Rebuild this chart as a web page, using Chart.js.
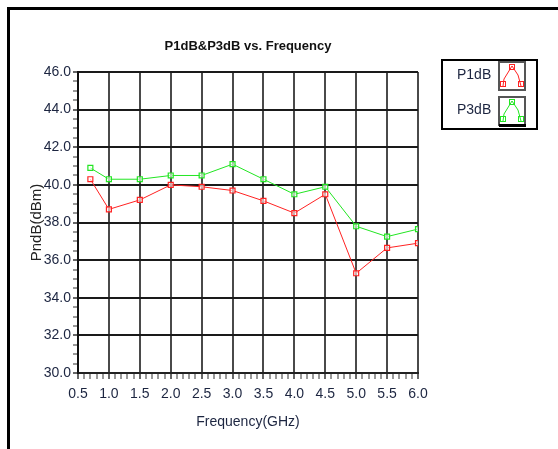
<!DOCTYPE html>
<html lang="en">
<head>
<meta charset="UTF-8">
<script src="https://cdn.jsdelivr.net/npm/chart.js"></script>
<title>P1dB&amp;P3dB vs. Frequency</title>
<style>
  body { margin: 0; background: #fff; }
  canvas { display: block; }
</style>
</head>
<body>
<canvas id="grafico" width="558" height="449"></canvas>
<script>
// dados
const freqs = [0.7, 1.0, 1.5, 2.0, 2.5, 3.0, 3.5, 4.0, 4.5, 5.0, 5.5, 6.0]
const p1dB = [40.3, 38.7, 39.2, 40.0, 39.9, 39.7, 39.15, 38.5, 39.5, 35.3, 36.65, 36.9]
const p3dB = [40.9, 40.3, 40.3, 40.5, 40.5, 41.1, 40.3, 39.5, 39.9, 37.8, 37.25, 37.65]
const seriesNames = ['P1dB', 'P3dB']
const seriesColors = ['#ff2222', '#22e622']

const fonte = '"Liberation Sans", Arial, sans-serif'
const corTexto = '#1c2540'

function isMultiple(v, m) {
  const r = v / m
  return Math.abs(r - Math.round(r)) < 1e-6
}

// moldura e legenda desenhadas a mao
const moldura = {
  id: 'moldura',
  beforeDraw(chart) {
    const c = chart.ctx
    c.save()
    c.fillStyle = '#fff'
    c.fillRect(0, 0, chart.width, chart.height)
    c.strokeStyle = '#000'
    c.lineWidth = 3
    c.beginPath()
    c.moveTo(8.5, 449)
    c.lineTo(8.5, 8.5)
    c.lineTo(558, 8.5)
    c.stroke()
    c.restore()
  },
  afterDraw(chart) {
    const c = chart.ctx
    c.save()
    c.strokeStyle = '#000'
    c.lineWidth = 2
    c.strokeRect(442, 60, 95, 69)
    c.font = '14px ' + fonte
    c.fillStyle = corTexto
    c.textBaseline = 'middle'
    c.textAlign = 'left'
    const tops = [62, 97]
    for (let i = 0; i < 2; i++) {
      c.fillText(seriesNames[i], 457, tops[i] + 13)
      const x0 = 499, y0 = tops[i]
      c.strokeStyle = '#555'
      c.lineWidth = 2
      c.strokeRect(x0, y0, 26, 28)
      c.strokeStyle = seriesColors[i]
      c.lineWidth = 1
      c.beginPath()
      c.moveTo(x0 + 4, y0 + 24)
      c.lineTo(x0 + 5, y0 + 17)
      c.lineTo(x0 + 13, y0 + 4)
      c.lineTo(x0 + 19, y0 + 13)
      c.lineTo(x0 + 22, y0 + 24)
      c.stroke()
      const pts = [[x0 + 4, y0 + 22], [x0 + 13, y0 + 5], [x0 + 22, y0 + 22]]
      pts.forEach(p => c.strokeRect(p[0] - 2.5, p[1] - 2.5, 5, 5))
    }
    c.fillStyle = '#000'
    c.fillRect(499, 124, 27, 3)
    c.restore()
  }
}

const ctx = document.getElementById('grafico')

var grafico = new Chart(ctx, {
  type: 'line',
  data: {
    datasets: [{
      label: seriesNames[0],
      data: freqs.map((f, i) => ({ x: f, y: p1dB[i] })),
      borderColor: seriesColors[0],
      borderWidth: 1,
      pointStyle: 'rect',
      pointRadius: 3.5,
      pointBorderWidth: 1.2,
      pointBackgroundColor: 'rgba(255,255,255,0.6)',
      pointBorderColor: seriesColors[0],
      tension: 0
    }, {
      label: seriesNames[1],
      data: freqs.map((f, i) => ({ x: f, y: p3dB[i] })),
      borderColor: seriesColors[1],
      borderWidth: 1,
      pointStyle: 'rect',
      pointRadius: 3.5,
      pointBorderWidth: 1.2,
      pointBackgroundColor: 'rgba(255,255,255,0.6)',
      pointBorderColor: seriesColors[1],
      tension: 0
    }]
  },
  plugins: [moldura],
  options: {
    responsive: false,
    animation: false,
    layout: { padding: { left: 0, right: 140, top: 0, bottom: 0 } },
    plugins: {
      legend: { display: false },
      tooltip: { enabled: false },
      title: {
        display: true,
        fullSize: false,
        text: 'P1dB&P3dB vs. Frequency',
        color: '#111',
        font: { family: fonte, size: 13, weight: 'bold', lineHeight: 1.2 },
        padding: { top: 39, bottom: 17.4 }
      }
    },
    scales: {
      x: {
        type: 'linear',
        min: 0.5,
        max: 6.0,
        afterFit: s => { s.height = 76 },
        ticks: {
          stepSize: 0.1,
          maxTicksLimit: 100,
          autoSkip: false,
          maxRotation: 0,
          color: corTexto,
          font: { family: fonte, size: 14 },
          padding: 7,
          callback: v => isMultiple(v, 0.5) ? v.toFixed(1) : ''
        },
        grid: {
          color: c => (c.tick && isMultiple(c.tick.value, 0.5)) ? '#4a4a4a' : 'rgba(0,0,0,0)',
          lineWidth: 2,
          tickLength: 6,
          tickColor: '#333',
          tickWidth: c => (c.tick && isMultiple(c.tick.value, 0.5)) ? 1.5 : 1
        },
        border: { color: '#222', width: 2 },
        title: {
          display: true,
          text: 'Frequency(GHz)',
          color: corTexto,
          font: { family: fonte, size: 14 },
          padding: { top: 0, bottom: 18 }
        }
      },
      y: {
        min: 30,
        max: 46,
        afterFit: s => { s.width = 78 },
        ticks: {
          stepSize: 0.5,
          maxTicksLimit: 100,
          autoSkip: false,
          color: corTexto,
          font: { family: fonte, size: 14 },
          padding: 2,
          callback: v => isMultiple(v, 2) ? v.toFixed(1) : ''
        },
        grid: {
          color: c => (c.tick && isMultiple(c.tick.value, 2)) ? '#1a1a1a' : 'rgba(0,0,0,0)',
          lineWidth: 2,
          tickLength: 5,
          tickColor: '#333',
          tickWidth: c => (c.tick && isMultiple(c.tick.value, 2)) ? 1.5 : 1
        },
        border: { color: '#111', width: 2 },
        title: {
          display: true,
          text: 'PndB(dBm)',
          color: '#222',
          font: { family: fonte, size: 15 },
          padding: { top: 28, bottom: 0 }
        }
      }
    }
  }
})
</script>
</body>
</html>
